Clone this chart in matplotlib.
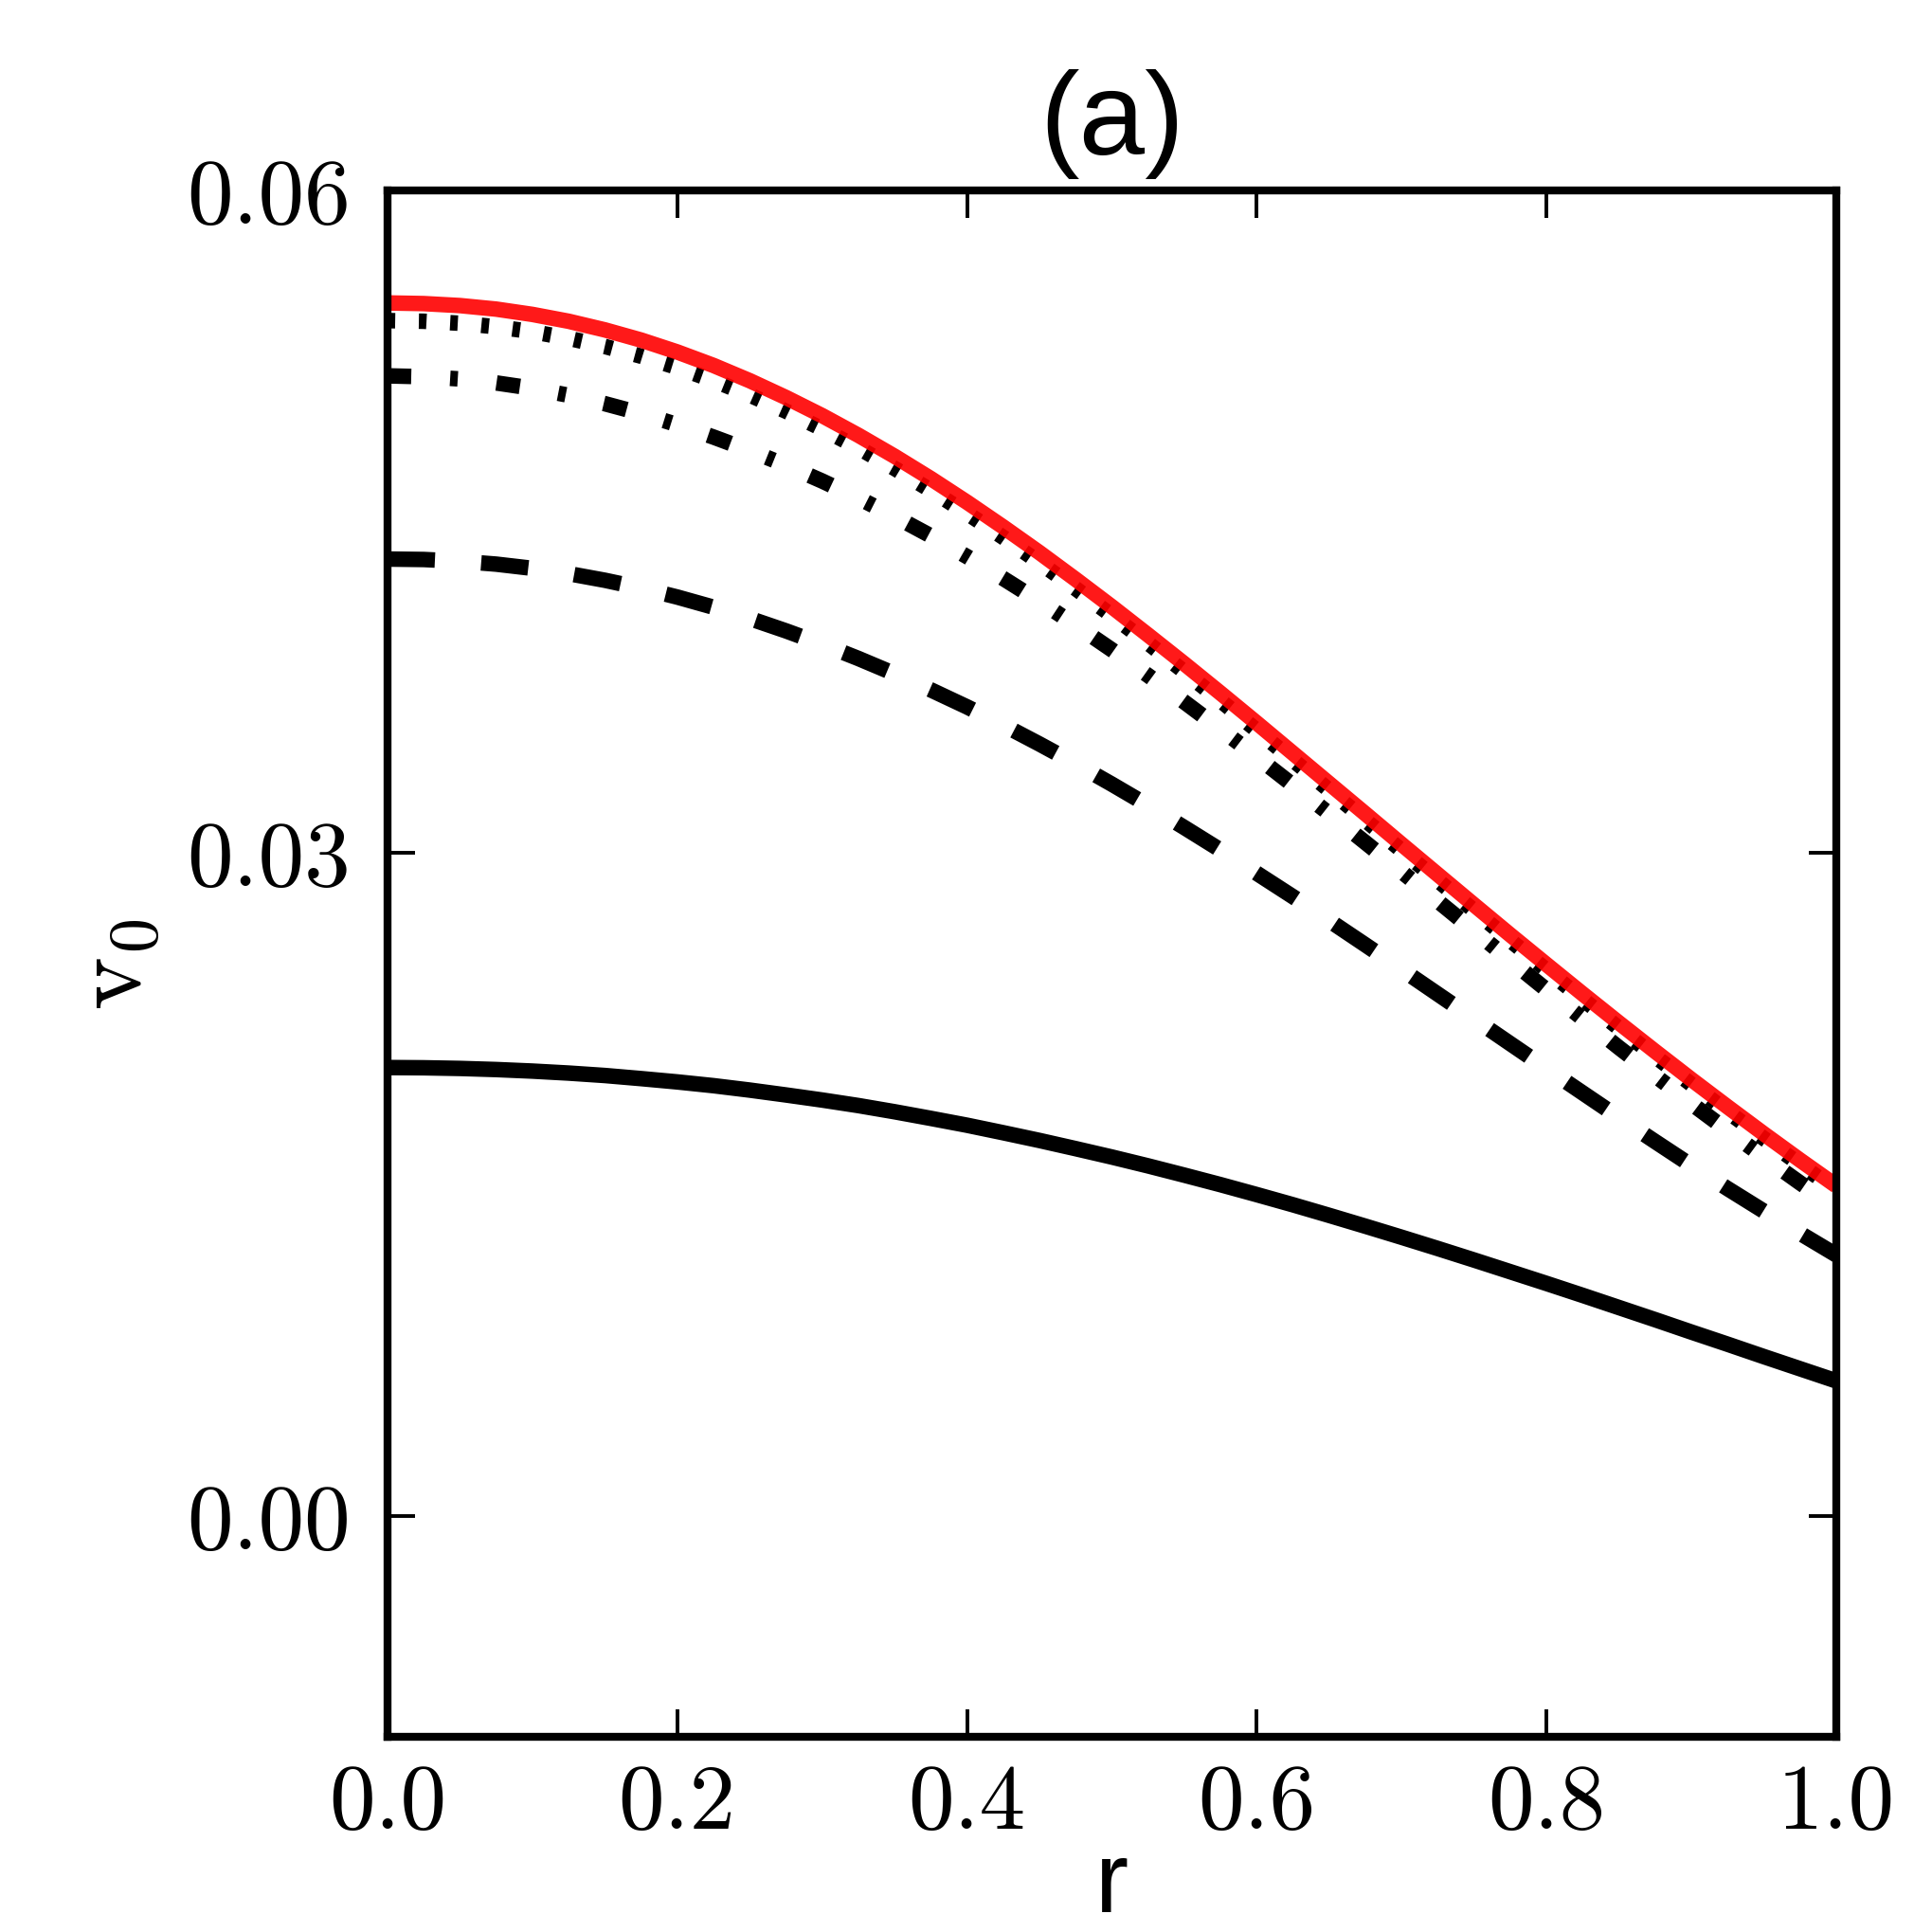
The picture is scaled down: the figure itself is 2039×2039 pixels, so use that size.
import matplotlib
matplotlib.use("Agg")
import matplotlib.pyplot as plt

plt.rcParams['mathtext.fontset'] = 'cm'
plt.rcParams['lines.scale_dashes'] = False

r = [0.000, 0.025, 0.050, 0.075, 0.100, 0.125, 0.150, 0.175, 0.200, 0.225,
     0.250, 0.275, 0.300, 0.325, 0.350, 0.375, 0.400, 0.425, 0.450, 0.475,
     0.500, 0.525, 0.550, 0.575, 0.600, 0.625, 0.650, 0.675, 0.700, 0.725,
     0.750, 0.775, 0.800, 0.825, 0.850, 0.875, 0.900, 0.925, 0.950, 0.975, 1.000]

v_solid = [0.02030, 0.02029, 0.02026, 0.02021, 0.02014, 0.02005, 0.01994, 0.01980, 0.01965, 0.01948,
           0.01928, 0.01906, 0.01883, 0.01858, 0.01830, 0.01800, 0.01769, 0.01735, 0.01700, 0.01663,
           0.01625, 0.01585, 0.01543, 0.01500, 0.01455, 0.01409, 0.01361, 0.01312, 0.01262, 0.01211,
           0.01159, 0.01106, 0.01053, 0.00999, 0.00944, 0.00889, 0.00833, 0.00778, 0.00722, 0.00667, 0.00612]
v_dashed = [0.04331, 0.04329, 0.04321, 0.04308, 0.04289, 0.04265, 0.04235, 0.04200, 0.04159, 0.04113,
            0.04062, 0.04006, 0.03946, 0.03881, 0.03812, 0.03739, 0.03662, 0.03580, 0.03494, 0.03405,
            0.03312, 0.03216, 0.03116, 0.03014, 0.02909, 0.02803, 0.02695, 0.02585, 0.02474, 0.02362,
            0.02250, 0.02138, 0.02026, 0.01915, 0.01804, 0.01695, 0.01587, 0.01482, 0.01380, 0.01280, 0.01182]
v_dashdot = [0.05160, 0.05156, 0.05146, 0.05128, 0.05104, 0.05072, 0.05034, 0.04990, 0.04939, 0.04883,
             0.04822, 0.04756, 0.04684, 0.04607, 0.04524, 0.04436, 0.04342, 0.04243, 0.04140, 0.04032,
             0.03920, 0.03804, 0.03684, 0.03561, 0.03436, 0.03308, 0.03179, 0.03048, 0.02916, 0.02783,
             0.02649, 0.02515, 0.02382, 0.02251, 0.02120, 0.01993, 0.01867, 0.01745, 0.01625, 0.01508, 0.01395]
v_dotted = [0.05410, 0.05407, 0.05398, 0.05382, 0.05360, 0.05330, 0.05293, 0.05249, 0.05198, 0.05139,
            0.05073, 0.05000, 0.04920, 0.04834, 0.04741, 0.04642, 0.04538, 0.04429, 0.04315, 0.04197,
            0.04075, 0.03950, 0.03821, 0.03690, 0.03556, 0.03421, 0.03285, 0.03149, 0.03012, 0.02876,
            0.02740, 0.02605, 0.02471, 0.02339, 0.02208, 0.02080, 0.01954, 0.01830, 0.01709, 0.01591, 0.01475]
v_red = [0.05490, 0.05487, 0.05478, 0.05462, 0.05438, 0.05407, 0.05368, 0.05322, 0.05268, 0.05207,
         0.05138, 0.05062, 0.04980, 0.04891, 0.04796, 0.04695, 0.04588, 0.04476, 0.04360, 0.04239,
         0.04115, 0.03987, 0.03857, 0.03724, 0.03589, 0.03452, 0.03315, 0.03178, 0.03040, 0.02903,
         0.02766, 0.02630, 0.02496, 0.02363, 0.02232, 0.02103, 0.01976, 0.01852, 0.01730, 0.01611, 0.01495]

xticks = [0.0, 0.2, 0.4, 0.6, 0.8, 1.0]
xticklabels = ['0.0', '0.2', '0.4', '0.6', '0.8', '1.0']
yticks = [0.00, 0.03, 0.06]
yticklabels = ['0.00', '0.03', '0.06']

fig = plt.figure(figsize=(10.2, 10.2), dpi=200)
ax = fig.add_axes([0.2005, 0.1008, 0.7495, 0.8003])

lw = 5.9
common = dict(lw=lw, solid_joinstyle='round', dash_joinstyle='round')
ax.plot(r, v_solid, color='black', solid_capstyle='butt', **common)
ax.plot(r, v_dashed, color='black', dashes=(18, 17.6), **common)
ax.plot(r, v_dashdot, color='black', dashes=(9, 14.8, 2.9, 14.8), **common)
ax.plot(r, v_dotted, color='black', dashes=(2.9, 9.0), **common)
ax.plot(r, v_red, color='red', alpha=0.9, solid_capstyle='butt', **common)

ax.set_xlim(0, 1)
ax.set_ylim(-0.01, 0.06)
ax.set_xticks(xticks)
ax.set_xticklabels(xticklabels, fontfamily='cmr10', fontsize=35)
ax.set_yticks(yticks)
ax.set_yticklabels(yticklabels, fontfamily='cmr10', fontsize=35)
ax.tick_params(axis='both', direction='in', top=True, right=True,
               length=10.4, width=1.4)
ax.tick_params(axis='x', pad=10)
ax.tick_params(axis='y', pad=14)
for s in ax.spines.values():
    s.set_linewidth(3.0)

ax.set_title('(a)', fontfamily='Liberation Sans', fontsize=45, pad=14)
ax.set_xlabel('r', fontfamily='Liberation Sans', fontsize=38, labelpad=-3)
ax.set_ylabel(r'$\mathrm{v}_0$', fontsize=38, labelpad=9)

fig.savefig('out.png', dpi=200)
